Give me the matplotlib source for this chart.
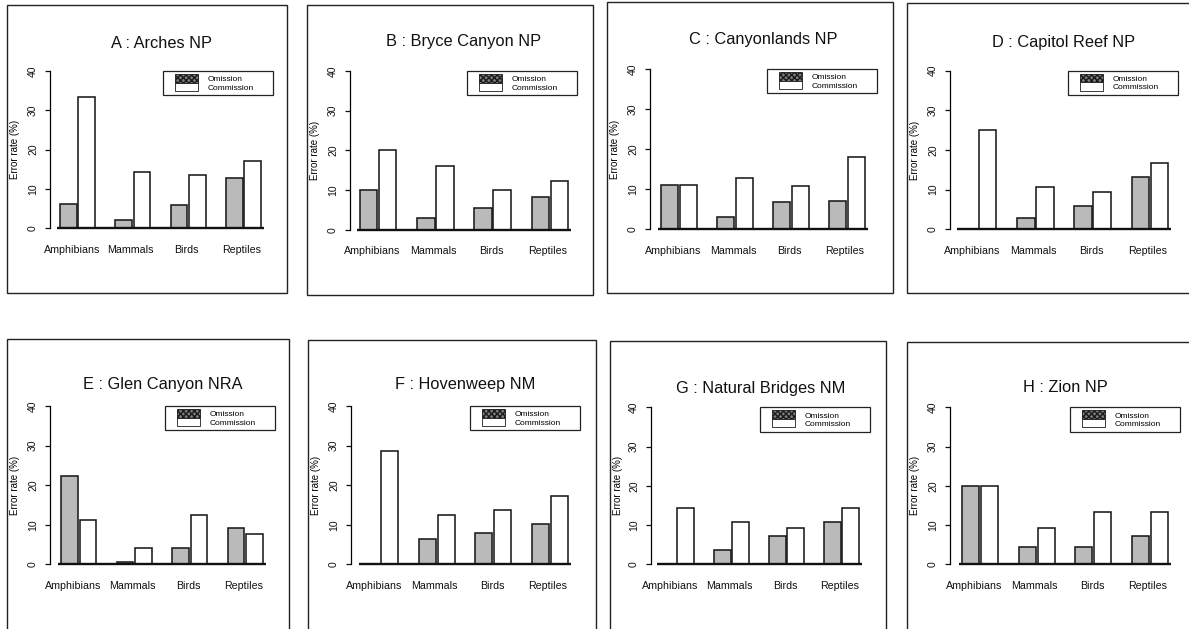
import matplotlib
matplotlib.use("Agg")
import matplotlib.pyplot as plt
from matplotlib.patches import Rectangle, Patch
from matplotlib.legend_handler import HandlerPatch

plt.rcParams['font.family'] = ['Liberation Sans', 'DejaVu Sans']

# ---------------- data ----------------
categories = ["Amphibians", "Mammals", "Birds", "Reptiles"]
series_names = ["Omission", "Commission"]
titles = ["A : Arches NP", "B : Bryce Canyon NP", "C : Canyonlands NP",
          "D : Capitol Reef NP", "E : Glen Canyon NRA", "F : Hovenweep NM",
          "G : Natural Bridges NM", "H : Zion NP"]

omission_A = [6.3, 2.2, 5.8, 12.9]
commission_A = [33.3, 14.3, 13.5, 17.0]
omission_B = [10.0, 2.9, 5.5, 8.2]
commission_B = [20.0, 16.1, 10.0, 12.4]
omission_C = [11.1, 3.0, 6.7, 7.1]
commission_C = [11.1, 12.7, 10.7, 18.0]
omission_D = [0.0, 2.9, 5.8, 13.3]
commission_D = [25.0, 10.7, 9.3, 16.7]
omission_E = [22.2, 0.7, 4.2, 9.1]
commission_E = [11.1, 4.0, 12.4, 7.7]
omission_F = [0.0, 6.5, 8.0, 10.3]
commission_F = [28.6, 12.4, 13.7, 17.2]
omission_G = [0.0, 3.6, 7.1, 10.7]
commission_G = [14.3, 10.7, 9.2, 14.3]
omission_H = [20.0, 4.3, 4.4, 7.3]
commission_H = [20.0, 9.3, 13.3, 13.3]

omissions = [omission_A, omission_B, omission_C, omission_D,
             omission_E, omission_F, omission_G, omission_H]
commissions = [commission_A, commission_B, commission_C, commission_D,
               commission_E, commission_F, commission_G, commission_H]

yticks = [0, 10, 20, 30, 40]

# ---------------- layout (pixels) ----------------
W, H = 1189, 629
# box x0, y0, x1, y1, yaxis_x, right_x, y0_px, y40_px, bar_left, bar_right, title_y
layout = [
    (7, 5, 287, 293, 50, 273, 228.3, 71.0, 60, 261, 43),
    (307, 5, 593, 295, 350, 577, 229.7, 71.0, 360, 568, 42),
    (607, 2, 893, 293, 650, 877, 229.3, 69.0, 661, 865, 39),
    (907, 3, 1210, 293, 950, 1178, 229.3, 70.7, 960, 1168, 42),
    (7, 339, 289, 660, 50, 275, 564.3, 406.0, 61, 263, 385),
    (308, 340, 596, 660, 351, 580, 564.3, 406.0, 362, 568, 385),
    (610, 341, 886, 660, 651, 870, 564.3, 407.3, 659, 859, 388),
    (907, 342, 1210, 660, 950, 1180, 564.3, 407.3, 962, 1168, 388),
]
legend_w_px = 110
label_shift = [-0.35, -0.12, -0.08, -0.12]   # x-label nudges (bar units)

group_step = 3.3
bar_w = 1.0
inner = 1.1
span = group_step * (len(categories) - 1) + inner + bar_w

fig = plt.figure(figsize=(W / 100, H / 100), dpi=100)
fig.patch.set_facecolor('white')


def fx(x):
    return x / W


def fy(y):
    return 1 - y / H


def legend_patch(legend, orig_handle, xdescent, ydescent, width, height, fontsize):
    off = 0.26 * width
    return Rectangle((-xdescent + off, -ydescent - 0.08 * height),
                     width - off, height * 1.16)


om_color = '#bababa'
om_legend_color = '#7c7c7c'
edge = '#1a1a1a'

for i in range(8):
    (bx0, by0, bx1, by1, yax, rx, y0p, y40p, blp, brp, ty) = layout[i]
    fig.add_artist(Rectangle((fx(bx0), fy(by1)), (bx1 - bx0) / W, (by1 - by0) / H,
                             transform=fig.transFigure, fill=False,
                             edgecolor='#222222', linewidth=1.0))
    ppx = (brp - blp) / span
    ppy = (y0p - y40p) / 40.0
    top_px = y40p - 1.6 * ppy
    bot_px = y0p + 1.6 * ppy
    ax = fig.add_axes([fx(yax), fy(bot_px), (rx - yax) / W, (bot_px - top_px) / H])
    ax.set_xlim((yax - blp) / ppx, (rx - blp) / ppx)
    ax.set_ylim(-1.6, 41.6)
    ax.patch.set_alpha(0)

    x_om = [g * group_step for g in range(len(categories))]
    x_co = [g * group_step + inner for g in range(len(categories))]
    ax.bar(x_om, omissions[i], width=bar_w, align='edge', color=om_color,
           edgecolor=edge, linewidth=1.15, zorder=2)
    ax.bar(x_co, commissions[i], width=bar_w, align='edge', color='white',
           edgecolor=edge, linewidth=1.15, zorder=2)
    ax.plot([x_om[0] - 0.15, x_co[-1] + bar_w + 0.15], [0, 0], color='#111111',
            linewidth=1.7, solid_capstyle='butt', zorder=3)

    for s in ['top', 'right', 'bottom']:
        ax.spines[s].set_visible(False)
    ax.spines['left'].set_bounds(0, 40)
    ax.spines['left'].set_linewidth(0.9)
    ax.set_yticks(yticks)
    ax.set_yticklabels([str(v) for v in yticks], rotation=90, va='center')
    ax.tick_params(axis='y', length=3.6, width=0.9, pad=5.0, labelsize=7.5,
                   colors='#111111')
    centers = [g * group_step + (inner + bar_w) / 2 + label_shift[g]
               for g in range(len(categories))]
    ax.set_xticks(centers)
    ax.set_xticklabels(categories)
    ax.tick_params(axis='x', length=0, pad=7.5, labelsize=7.7, colors='#111111')

    ax.set_ylabel("Error rate (%)", fontsize=7.0, va='center')
    ax.yaxis.set_label_coords((bx0 + 8 - yax) / (rx - yax), 0.5)

    ty_ax = (bot_px - ty) / (bot_px - top_px)
    ax.text(0.5, ty_ax, titles[i], transform=ax.transAxes, ha='center',
            va='center', fontsize=11.8, color='#111111')

    handles = [Patch(facecolor=om_legend_color, edgecolor=edge, linewidth=0.6,
                     hatch='xxxxxx'),
               Patch(facecolor='white', edgecolor=edge, linewidth=0.6)]
    lw_frac = legend_w_px / (rx - yax)
    y_top = (bot_px - y40p) / (bot_px - top_px)
    leg = ax.legend(handles, series_names, loc='upper left',
                    bbox_to_anchor=(1 - lw_frac, y_top - 0.2, lw_frac, 0.2),
                    mode='expand', borderaxespad=0, fontsize=6.0,
                    handlelength=3.7, handleheight=0.95, handletextpad=1.2,
                    labelspacing=0.0, borderpad=0.45, fancybox=False,
                    framealpha=1, edgecolor='#222222',
                    handler_map={Patch: HandlerPatch(patch_func=legend_patch)})
    leg.get_frame().set_linewidth(0.9)

fig.savefig("out.png", dpi=100)
